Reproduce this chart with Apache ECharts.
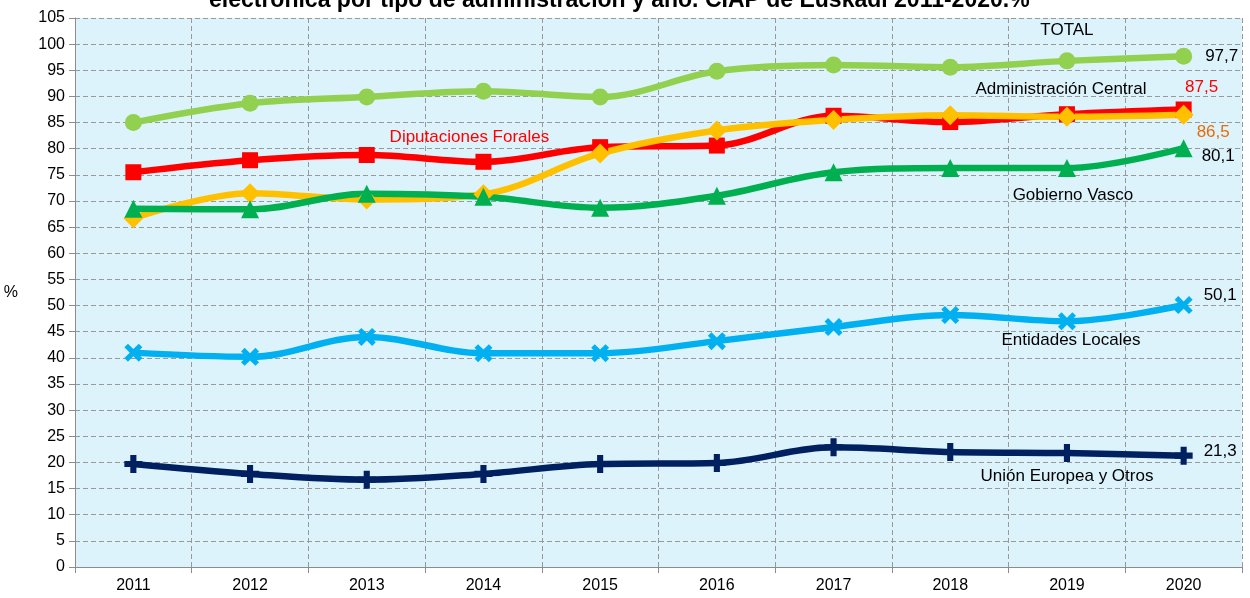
<!DOCTYPE html>
<html>
<head>
<meta charset="utf-8">
<script src="https://cdn.jsdelivr.net/npm/echarts@6/dist/echarts.min.js"></script>
<style>html,body{margin:0;padding:0;background:#fff}#c{width:1250px;height:598px}</style>
</head>
<body>
<div id="c"></div>
<script>
var titleText = 'electrónica por tipo de administración y año. CIAP de Euskadi 2011-2020.%';
var years = ['2011','2012','2013','2014','2015','2016','2017','2018','2019','2020'];
var total = [85.0, 88.7, 89.9, 91.0, 89.9, 94.8, 96.0, 95.6, 96.8, 97.7];
var diputaciones = [75.5, 77.8, 78.8, 77.5, 80.3, 80.6, 86.3, 85.1, 86.6, 87.5];
var adminCentral = [66.7, 71.5, 70.3, 71.3, 79.1, 83.5, 85.5, 86.4, 86.1, 86.5];
var gobiernoVasco = [68.5, 68.4, 71.4, 70.8, 68.7, 71.0, 75.5, 76.3, 76.3, 80.1];
var entidades = [41.0, 40.2, 44.0, 40.9, 40.9, 43.2, 45.9, 48.2, 47.0, 50.1];
var ue = [19.7, 17.8, 16.7, 17.8, 19.7, 19.9, 22.9, 22.0, 21.8, 21.3];
var yTicks = {min: 0, max: 105, interval: 5};

var FONT = 'Liberation Sans, Arial, sans-serif';
var chart = echarts.init(document.getElementById('c'));

function endLabel(arr, color, pos, off) {
  return arr.map(function (v, i) {
    if (i !== arr.length - 1) return v;
    return {value: v, label: {show: true, position: pos, offset: off, color: color,
      fontSize: 17, fontFamily: FONT,
      formatter: function (p) { return String(p.value).replace('.', ','); }}};
  });
}
function nameMark(text, x, y, color, dx) {
  return {
    silent: true, symbol: 'circle', symbolSize: 0,
    itemStyle: {color: 'transparent'},
    label: {show: true, position: 'inside', offset: [dx || 0, 0], color: color, fontSize: 17, fontFamily: FONT, formatter: text},
    data: [{coord: [x, y]}]
  };
}
function series(name, data, color, symbol, size, mark) {
  return {
    name: name, type: 'line', smooth: 0.35, data: data,
    symbol: symbol, symbolSize: size, showAllSymbol: true,
    lineStyle: {color: color, width: 6.5},
    itemStyle: {color: color, borderWidth: 0},
    markPoint: mark, z: 3
  };
}
var X_SYM = 'path://M2,0 L5,3 L8,0 L10,2 L7,5 L10,8 L8,10 L5,7 L2,10 L0,8 L3,5 L0,2 Z';
var PLUS_SYM = 'path://M3.3,0 H6.7 V3.3 H10 V6.7 H6.7 V10 H3.3 V6.7 H0 V3.3 H3.3 Z';

chart.setOption({
  animation: false,
  title: {text: titleText, left: 204, top: -16,
    textStyle: {fontSize: 23, fontWeight: 'bold', color: '#000', fontFamily: FONT}},
  grid: {left: 75, right: 8, top: 18, bottom: 31, show: true, backgroundColor: '#DDF3FC', borderWidth: 0},
  xAxis: {
    type: 'category', data: years, boundaryGap: true,
    axisLine: {show: true, lineStyle: {color: '#8c8c8c', width: 1}},
    axisTick: {show: true, length: 6, lineStyle: {color: '#8c8c8c'}},
    axisLabel: {color: '#000', fontSize: 16, fontFamily: FONT, margin: 11},
    splitLine: {show: true, lineStyle: {color: '#999', type: [5, 3], width: 1}}
  },
  yAxis: {
    type: 'value', min: yTicks.min, max: yTicks.max, interval: yTicks.interval,
    name: '%', nameLocation: 'middle', nameRotate: 0, nameGap: 57,
    nameTextStyle: {color: '#000', fontSize: 16, fontFamily: FONT},
    axisLine: {show: true, lineStyle: {color: '#8c8c8c', width: 1}},
    axisTick: {show: true, length: 6, lineStyle: {color: '#8c8c8c'}},
    axisLabel: {color: '#000', fontSize: 16, fontFamily: FONT, margin: 10},
    splitLine: {show: true, lineStyle: {color: '#999', type: [5, 3], width: 1}}
  },
  series: [
    series('Unión Europea y Otros', endLabel(ue, '#000', 'right', [6, -4]), '#002060', PLUS_SYM, 18,
      nameMark('Unión Europea y Otros', '2019', 17.3, '#000', 0)),
    series('Entidades Locales', endLabel(entidades, '#000', 'right', [6, -10]), '#00B0F0', X_SYM, 18,
      nameMark('Entidades Locales', '2019', 43.4, '#000', 4)),
    series('Diputaciones Forales', endLabel(diputaciones, '#FF0000', 'top', [18, -1]), '#FF0000', 'rect', 16,
      nameMark('Diputaciones Forales', '2014', 82.2, '#FF0000', -14)),
    series('Administración Central', endLabel(adminCentral, '#E46C0A', 'right', [-2, 18]), '#FFC000', 'diamond', 20,
      nameMark('Administración Central', '2019', 91.4, '#000', -6)),
    series('Gobierno Vasco', endLabel(gobiernoVasco, '#000', 'right', [4, 8]), '#00B050', 'triangle', 18,
      nameMark('Gobierno Vasco', '2019', 71.0, '#000', 6)),
    series('TOTAL', endLabel(total, '#000', 'right', [8, 0]), '#92D050', 'circle', 17,
      nameMark('TOTAL', '2019', 102.7, '#000', 0))
  ]
});
</script>
</body>
</html>
